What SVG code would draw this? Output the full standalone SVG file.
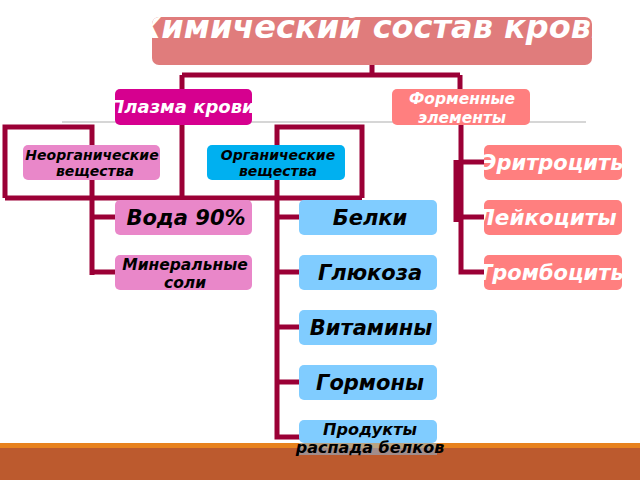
<svg xmlns="http://www.w3.org/2000/svg" width="640" height="480" viewBox="0 0 640 480">
<style>
.ln{stroke:#9b0036;stroke-width:5;fill:none}
.t{font-family:"DejaVu Sans",sans-serif;font-weight:bold;font-style:italic;text-anchor:middle}
.w{fill:#ffffff}
.k{fill:#000000}
.pink{fill:#e987c9}
.blue{fill:#80ccff}
.sal{fill:#ff7f7f}
</style>
<defs>
<clipPath id="cT"><rect x="152" y="17" width="440" height="48" rx="7"/></clipPath>
<clipPath id="cP"><rect x="115" y="89" width="137" height="36"/></clipPath>
<clipPath id="cE"><rect x="484" y="145" width="138" height="35"/></clipPath>
<clipPath id="cL"><rect x="484" y="200" width="138" height="35"/></clipPath>
<clipPath id="cR"><rect x="484" y="255" width="138" height="35"/></clipPath>
</defs>
<rect x="0" y="0" width="640" height="480" fill="#ffffff"/>
<line x1="62" y1="122" x2="586" y2="122" stroke="#c8c8c8" stroke-width="1.5"/>
<g id="connectors">
<path class="ln" d="M372 63V75M182 75H460M182 75V91M460 75V91"/>
<path class="ln" d="M182 123V198M5 198H362M5 198V127H92V275M92 217H117M92 272H117"/>
<path class="ln" d="M277 198V127H362V198M277 198V437H301M277 217H301M277 272H301M277 327H301M277 382H301"/>
<path class="ln" d="M461 123V272H486M461 162H486M461 217H486M456 160V222"/>
</g>
<g id="title">
<rect x="152" y="17" width="440" height="48" rx="7" fill="#e07c7c"/>
<text class="t w" x="375" y="38" font-size="32" clip-path="url(#cT)">Химический состав крови</text>
</g>
<g id="plazma">
<rect x="115" y="89" width="137" height="36" rx="5" fill="#d6008f"/>
<text class="t w" x="182" y="113" font-size="18" clip-path="url(#cP)">Плазма крови</text>
</g>
<g id="formennye">
<rect x="392" y="89" width="138" height="36" rx="5" class="sal"/>
<text class="t w" x="462" y="104" font-size="15.5">Форменные</text>
<text class="t w" x="462" y="123" font-size="15.5">элементы</text>
</g>
<g id="neorg">
<rect x="23" y="145" width="137" height="35" rx="5" class="pink"/>
<text class="t k" x="92" y="160" font-size="14">Неорганические</text>
<text class="t k" x="95" y="176" font-size="14">вещества</text>
</g>
<g id="org">
<rect x="207" y="145" width="138" height="35" rx="5" fill="#00b0f0"/>
<text class="t k" x="278" y="160" font-size="14">Органические</text>
<text class="t k" x="278" y="176" font-size="14">вещества</text>
</g>
<g id="voda">
<rect x="115" y="200" width="137" height="35" rx="5" class="pink"/>
<text class="t k" x="186" y="225" font-size="21">Вода 90%</text>
</g>
<g id="mineral">
<rect x="115" y="255" width="137" height="35" rx="5" class="pink"/>
<text class="t k" x="185" y="270" font-size="15.5">Минеральные</text>
<text class="t k" x="185" y="288" font-size="15.5">соли</text>
</g>
<g id="belki">
<rect x="299" y="200" width="138" height="35" rx="5" class="blue"/>
<text class="t k" x="370" y="225" font-size="21">Белки</text>
</g>
<g id="glukoza">
<rect x="299" y="255" width="138" height="35" rx="5" class="blue"/>
<text class="t k" x="370" y="280" font-size="21">Глюкоза</text>
</g>
<g id="vitaminy">
<rect x="299" y="310" width="138" height="35" rx="5" class="blue"/>
<text class="t k" x="371" y="335" font-size="21">Витамины</text>
</g>
<g id="gormony">
<rect x="299" y="365" width="138" height="35" rx="5" class="blue"/>
<text class="t k" x="370" y="390" font-size="21">Гормоны</text>
</g>
<g id="band">
<rect x="0" y="443" width="640" height="37" fill="#bc5a2e"/>
<rect x="0" y="443" width="640" height="5" fill="#e8821e"/>
</g>
<g id="produkty">
<rect x="299" y="420" width="138" height="23" rx="5" class="blue"/>
<rect x="299" y="443" width="138" height="12" fill="#80ccff" fill-opacity="0.45"/>
<text class="t k" x="370" y="435" font-size="16">Продукты</text>
<text class="t k" x="370" y="453" font-size="16">распада белков</text>
</g>
<g id="eritro">
<rect x="484" y="145" width="138" height="35" rx="5" class="sal"/>
<text class="t w" x="481" y="170" font-size="21" style="text-anchor:start" clip-path="url(#cE)">Эритроциты</text>
</g>
<g id="leiko">
<rect x="484" y="200" width="138" height="35" rx="5" class="sal"/>
<text class="t w" x="477" y="225" font-size="21.5" style="text-anchor:start" clip-path="url(#cL)">Лейкоциты</text>
</g>
<g id="trombo">
<rect x="484" y="255" width="138" height="35" rx="5" class="sal"/>
<text class="t w" x="478" y="280" font-size="21" style="text-anchor:start" clip-path="url(#cR)">Тромбоциты</text>
</g>
</svg>
